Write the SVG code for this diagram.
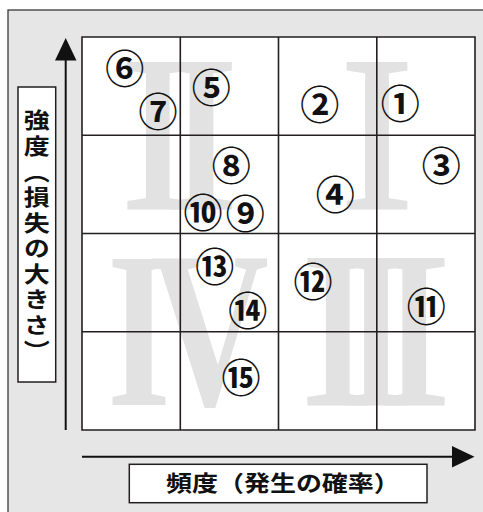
<svg xmlns="http://www.w3.org/2000/svg" width="483" height="512" viewBox="0 0 483 512">
<defs>
<style>
.panel{fill:#e6e6e6;stroke:#3a3a3a;stroke-width:1.3}
.cells{fill:#ffffff}
.grid{fill:none;stroke:#231f20;stroke-width:1.6}
.roman{font-family:"Liberation Serif","Times New Roman",serif;font-size:220px;fill:#e2e2e2;stroke:#e2e2e2;stroke-width:3}
.romanb{font-family:"Liberation Serif","Times New Roman",serif;font-size:222px;font-weight:bold;fill:#e2e2e2}
.num{font-family:"Noto Sans CJK JP","DejaVu Sans",sans-serif;font-size:39px;font-weight:bold;fill:#111;text-anchor:middle;dominant-baseline:central}
.lbl{font-family:"Noto Sans CJK JP","Noto Sans CJK SC",sans-serif;font-size:26px;font-weight:bold;fill:#111}
.box{fill:#ffffff;stroke:#231f20;stroke-width:1.5}
.axis{fill:none;stroke:#111;stroke-width:2}
.head{fill:#111}
</style>
</defs>
<rect class="panel" x="8" y="10" width="520" height="530"/>
<g id="matrix">
<rect class="cells" x="82" y="37" width="393" height="393"/>
<g id="numerals">
<text class="roman" x="121" y="208" letter-spacing="-29.5">II</text>
<text class="roman" x="377" y="208" text-anchor="middle">I</text>
<text class="romanb" transform="translate(107,405) scale(0.74,1)" x="0" y="0" letter-spacing="-28">IV</text>
<text class="roman" x="301" y="404" letter-spacing="-35">III</text>
</g>
<path class="grid" d="M82,37H475V430H82Z M180.3,37V430 M278.5,37V430 M376.8,37V430 M82,135.3H475 M82,233.5H475 M82,331.8H475"/>
</g>
<g id="connectors">
<line class="axis" x1="65.7" y1="430" x2="65.7" y2="58"/>
<polygon class="head" points="65.7,38 55,60.5 76.5,60.5"/>
<line class="axis" x1="82" y1="456.7" x2="454" y2="456.7"/>
<polygon class="head" points="474.5,456.7 452,446 452,467.5"/>
</g>
<g id="item-1"><text class="num" x="400.3" y="101.3">①</text></g>
<g id="item-2"><text class="num" x="319.7" y="102">②</text></g>
<g id="item-3"><text class="num" x="441.3" y="162.7">③</text></g>
<g id="item-4"><text class="num" x="335.3" y="192">④</text></g>
<g id="item-5"><text class="num" x="211.3" y="85.3">⑤</text></g>
<g id="item-6"><text class="num" x="124.7" y="66.3">⑥</text></g>
<g id="item-7"><text class="num" x="158" y="108.7">⑦</text></g>
<g id="item-8"><text class="num" x="231.3" y="162.7">⑧</text></g>
<g id="item-9"><text class="num" x="245.3" y="211.3">⑨</text></g>
<g id="item-10"><text class="num" x="203" y="210.3">⑩</text></g>
<g id="item-11"><text class="num" x="426.3" y="304">⑪</text></g>
<g id="item-12"><text class="num" x="313" y="278.7">⑫</text></g>
<g id="item-13"><text class="num" x="214.7" y="264">⑬</text></g>
<g id="item-14"><text class="num" x="247.7" y="308">⑭</text></g>
<g id="item-15"><text class="num" x="241" y="374.7">⑮</text></g>
<g id="label-y">
<rect class="box" x="18" y="87" width="37.7" height="295"/>
<text class="lbl" transform="translate(36.8,109) scale(1,0.85)" x="0" y="0" writing-mode="vertical-rl" letter-spacing="4.1">強度（損失の大きさ）</text>
</g>
<g id="label-x">
<rect class="box" x="129.3" y="464.3" width="297.7" height="38.4"/>
<text class="lbl" transform="translate(166,491) scale(1,0.85)" x="0" y="0">頻度（発生の確率）</text>
</g>
</svg>
